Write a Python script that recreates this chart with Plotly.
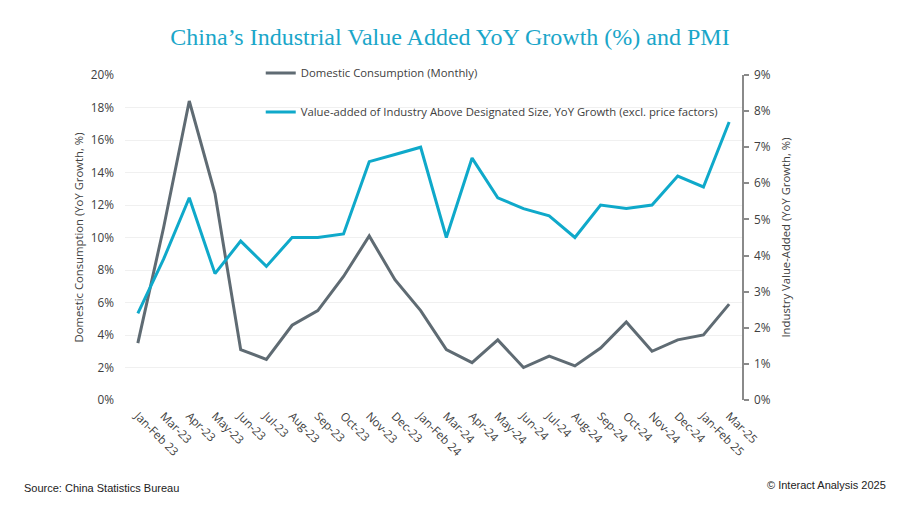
import plotly.graph_objects as go

categories = ["Jan-Feb 23", "Mar-23", "Apr-23", "May-23", "Jun-23", "Jul-23", "Aug-23", "Sep-23",
              "Oct-23", "Nov-23", "Dec-23", "Jan-Feb 24", "Mar-24", "Apr-24", "May-24", "Jun-24",
              "Jul-24", "Aug-24", "Sep-24", "Oct-24", "Nov-24", "Dec-24", "Jan-Feb 25", "Mar-25"]
consumption = [3.5, 10.6, 18.4, 12.7, 3.1, 2.5, 4.6, 5.5, 7.6, 10.1, 7.4, 5.5,
               3.1, 2.3, 3.7, 2.0, 2.7, 2.1, 3.2, 4.8, 3.0, 3.7, 4.0, 5.9]
industry_va = [2.4, 3.9, 5.6, 3.5, 4.4, 3.7, 4.5, 4.5, 4.6, 6.6, 6.8, 7.0,
               4.5, 6.7, 5.6, 5.3, 5.1, 4.5, 5.4, 5.3, 5.4, 6.2, 5.9, 7.7]
left_ticks = [0, 2, 4, 6, 8, 10, 12, 14, 16, 18, 20]
right_ticks = [0, 1, 2, 3, 4, 5, 6, 7, 8, 9]

GRAY = "#5f6b73"
BLUE = "#0fa9ca"
TXT = "#404040"
FONT = "Open Sans"
FS = 11.3

fig = go.Figure()
fig.add_trace(go.Scatter(
    x=categories, y=consumption, mode="lines", name="Domestic Consumption (Monthly)",
    line=dict(color=GRAY, width=3), yaxis="y", legend="legend", showlegend=True))
fig.add_trace(go.Scatter(
    x=categories, y=industry_va, mode="lines",
    name="Value-added of Industry Above Designated Size, YoY Growth (excl. price factors)",
    line=dict(color=BLUE, width=3), yaxis="y2", legend="legend2", showlegend=True))

fig.update_layout(
    width=900, height=506,
    showlegend=True,
    margin=dict(l=125, r=158, t=75, b=106),
    paper_bgcolor="white", plot_bgcolor="white",
    font=dict(family=FONT, size=FS, color=TXT),
    title=dict(text="China’s Industrial Value Added YoY Growth (%) and PMI",
               x=0.5, xanchor="center", y=0.927, yanchor="middle",
               font=dict(family="Liberation Serif", size=24, color="#1aa6c9")),
    xaxis=dict(type="category", range=[-0.5, len(categories) - 0.5], tickangle=45,
               showgrid=False, showline=False, ticks="", ticklabelstandoff=6,
               tickfont=dict(size=FS + 0.3, color=TXT, family=FONT)),
    yaxis=dict(range=[0, 20], tickvals=left_ticks,
               ticktext=[f"{v}%" for v in left_ticks],
               showgrid=True, gridcolor="#f0f0f0", gridwidth=1, zeroline=False,
               showline=False, ticks="", ticklabelstandoff=10,
               title=dict(text="Domestic Consumption (YoY Growth, %)",
                          font=dict(size=FS, color=TXT), standoff=4),
               tickfont=dict(size=FS + 0.5, color=TXT)),
    yaxis2=dict(range=[0, 9], tickvals=right_ticks,
                ticktext=[f"{v}%" for v in right_ticks],
                overlaying="y", side="right", showgrid=False, zeroline=False,
                showline=True, linecolor="#8a8a8a", linewidth=1.5,
                ticks="outside", ticklen=5, tickcolor="#8a8a8a", tickwidth=1.5,
                ticklabelstandoff=3,
                title=dict(text="Industry Value-Added (YoY Growth, %)",
                           font=dict(size=FS, color=TXT), standoff=12),
                tickfont=dict(size=FS + 0.5, color=TXT)),
    legend=dict(x=0.22, y=1.006, xanchor="left", yanchor="middle", visible=True,
                bgcolor="rgba(0,0,0,0)", font=dict(size=FS, color=TXT),
                itemwidth=30),
    legend2=dict(x=0.22, y=0.886, xanchor="left", yanchor="middle", visible=True,
                 bgcolor="rgba(0,0,0,0)", font=dict(size=FS, color=TXT),
                 itemwidth=30),
    annotations=[
        dict(text="Source: China Statistics Bureau", xref="paper", yref="paper",
             x=-103/617, y=-88/325, xanchor="left", yanchor="middle", showarrow=False,
             font=dict(family="Liberation Sans", size=11, color="#222222")),
        dict(text="© Interact Analysis 2025", xref="paper", yref="paper",
             x=(888-125)/617, y=-85/325, xanchor="right", yanchor="middle", showarrow=False,
             font=dict(family="Liberation Sans", size=11, color="#222222")),
    ],
)

fig.write_html("out.html")
